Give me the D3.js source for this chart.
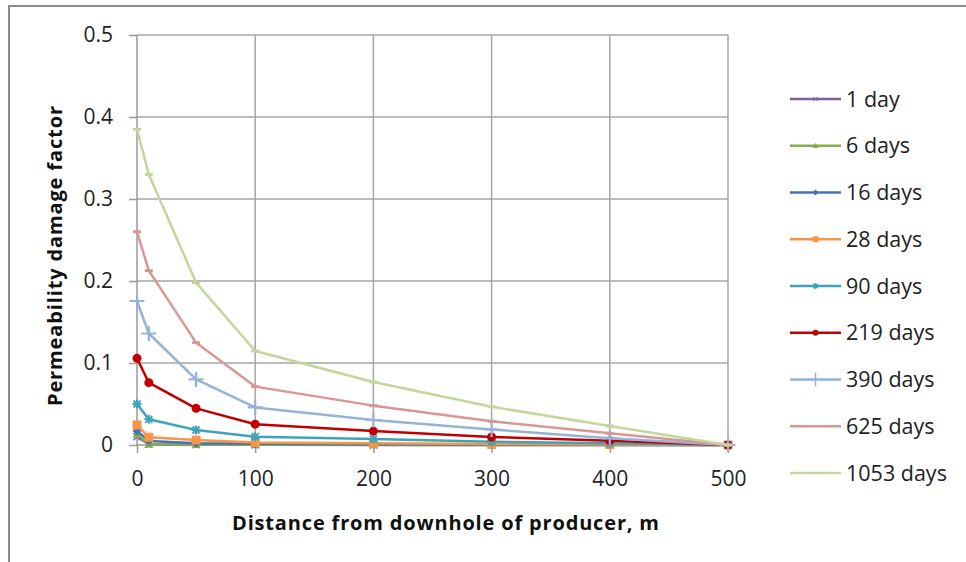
<!DOCTYPE html>
<html><head><meta charset="utf-8">
<script src="https://cdn.jsdelivr.net/npm/d3@7"></script>
<style>body{margin:0;background:#fff}svg{display:block}text{font-family:"Open Sans","Noto Sans",sans-serif}</style>
</head><body><svg id="c" width="966" height="562"></svg>
<script>
const distances = [0, 10, 50, 100, 200, 300, 400, 500];
const seriesNames = ["1 day","6 days","16 days","28 days","90 days","219 days","390 days","625 days","1053 days"];
const day1    = [0.010, 0.001, 0.0003, 0.0002, 0.0001, 0.0001, 0, 0];
const day6    = [0.013, 0.001, 0.0005, 0.0003, 0.0002, 0.0001, 0.0001, 0];
const day16   = [0.017, 0.005, 0.002, 0.0015, 0.001, 0.0007, 0.0004, 0];
const day28   = [0.0244, 0.0094, 0.006, 0.003, 0.002, 0.0012, 0.0006, 0];
const day90   = [0.050, 0.0313, 0.0183, 0.0102, 0.0073, 0.004, 0.002, 0];
const day219  = [0.1057, 0.076, 0.0447, 0.0254, 0.017, 0.0098, 0.0053, 0];
const day390  = [0.1756, 0.136, 0.080, 0.0458, 0.0305, 0.019, 0.0081, 0];
const day625  = [0.26, 0.2126, 0.1248, 0.0712, 0.048, 0.0289, 0.0142, 0];
const day1053 = [0.385, 0.330, 0.198, 0.1146, 0.0768, 0.0467, 0.0232, 0];
const xTicks = [0, 100, 200, 300, 400, 500];
const yTicks = [0, 0.1, 0.2, 0.3, 0.4, 0.5];
const xTitle = "Distance from downhole of producer, m";
const yTitle = "Permeability damage factor";

const allValues = [day1, day6, day16, day28, day90, day219, day390, day625, day1053];
const colors = ["#7D5FA0","#86AD4A","#4472B8","#F79646","#3FA3BB","#C00000","#95B3D7","#D99694","#C3D69B"];
const markers = ["x","tri","diamond","square","asterisk","circle","plus","dash","dash"];

const svg = d3.select("#c");
svg.append("rect").attr("x",9).attr("y",6).attr("width",1000).attr("height",600)
  .attr("fill","none").attr("stroke","#8a8a8a").attr("stroke-width",2);

const x = d3.scaleLinear().domain([0,500]).range([137,728]);
const y = d3.scaleLinear().domain([0,0.5]).range([445,35]);

const grid = svg.append("g");
grid.selectAll("line.h").data(yTicks.filter(d=>d>0)).join("line")
  .attr("x1",x(0)).attr("x2",x(500)).attr("y1",d=>y(d)).attr("y2",d=>y(d))
  .attr("stroke","#a6a6a6").attr("stroke-width",1.5);
grid.selectAll("line.v").data(xTicks.filter(d=>d>0)).join("line")
  .attr("y1",y(0)).attr("y2",y(0.5)).attr("x1",d=>x(d)).attr("x2",d=>x(d))
  .attr("stroke","#a6a6a6").attr("stroke-width",1.5);

const yAxis = svg.append("g").attr("transform",`translate(${x(0)},0)`)
  .call(d3.axisLeft(y).tickValues(yTicks).tickFormat(d=>d===0?"0":d3.format(".1f")(d)).tickSize(8).tickPadding(16));
const xAxis = svg.append("g").attr("transform",`translate(0,${y(0)})`)
  .call(d3.axisBottom(x).tickValues(xTicks).tickSize(8).tickPadding(18));
[yAxis,xAxis].forEach(a=>{
  a.select(".domain").attr("stroke","#9a9a9a").attr("stroke-width",1.5);
  a.selectAll(".tick line").attr("stroke","#9a9a9a").attr("stroke-width",1.5);
  a.selectAll(".tick text").attr("fill","#222").style("font-size","21px").style("font-family","'Open Sans', 'Noto Sans', sans-serif");
});
xAxis.select(".domain").attr("d",`M${x(0)},0H${x(500)}`);
yAxis.select(".domain").attr("d",`M0,${y(0)}V${y(0.5)}`);

function drawMarker(g, type, color, cx, cy){
  switch(type){
    case "x":
      g.append("path").attr("d",`M${cx-3.5},${cy-3.5}L${cx+3.5},${cy+3.5}M${cx-3.5},${cy+3.5}L${cx+3.5},${cy-3.5}`)
        .attr("stroke",color).attr("stroke-width",1.5).attr("fill","none"); break;
    case "tri":
      g.append("path").attr("d",`M${cx},${cy-4.5}L${cx+4.5},${cy+3.5}L${cx-4.5},${cy+3.5}Z`).attr("fill",color); break;
    case "diamond":
      g.append("path").attr("d",`M${cx},${cy-4.5}L${cx+4.5},${cy}L${cx},${cy+4.5}L${cx-4.5},${cy}Z`).attr("fill",color); break;
    case "square":
      g.append("rect").attr("x",cx-4.5).attr("y",cy-4.5).attr("width",9).attr("height",9).attr("fill",color); break;
    case "asterisk":
      g.append("path").attr("d",`M${cx-4.5},${cy}L${cx+4.5},${cy}M${cx},${cy-4.5}L${cx},${cy+4.5}M${cx-3.5},${cy-3.5}L${cx+3.5},${cy+3.5}M${cx-3.5},${cy+3.5}L${cx+3.5},${cy-3.5}`)
        .attr("stroke",color).attr("stroke-width",2).attr("fill","none"); break;
    case "circle":
      g.append("circle").attr("cx",cx).attr("cy",cy).attr("r",4.5).attr("fill",color); break;
    case "plus":
      g.append("path").attr("d",`M${cx-7.5},${cy}L${cx+7.5},${cy}M${cx},${cy-7.5}L${cx},${cy+7.5}`)
        .attr("stroke",color).attr("stroke-width",2.2).attr("fill","none"); break;
    case "dash":
      g.append("rect").attr("x",cx-4).attr("y",cy-1.5).attr("width",8).attr("height",3).attr("fill",color); break;
  }
}

const line = d3.line().x((d,i)=>x(distances[i])).y(d=>y(d));
const plot = svg.append("g");
allValues.forEach((vals,k)=>{
  const g = plot.append("g");
  g.append("path").datum(vals).attr("d",line).attr("fill","none")
    .attr("stroke",colors[k]).attr("stroke-width",2.5).attr("stroke-linejoin","round");
  vals.forEach((v,i)=>drawMarker(g, markers[k], colors[k], x(distances[i]), y(v)));
});

const legendY = d3.scaleLinear().domain([0,8]).range([99,473]);
const leg = svg.append("g");
seriesNames.forEach((name,k)=>{
  const ly = legendY(k);
  leg.append("line").attr("x1",790).attr("x2",841).attr("y1",ly).attr("y2",ly)
    .attr("stroke",colors[k]).attr("stroke-width",2.5);
  if(markers[k]!=="dash") {
    if(markers[k]==="plus"){
      leg.append("path").attr("d",`M${815.5},${ly-7}L${815.5},${ly+7}`).attr("stroke",colors[k]).attr("stroke-width",1.5);
    } else {
      leg.append("g").attr("transform",`translate(${815.5},${ly}) scale(0.65) translate(${-815.5},${-ly})`)
        .call(s=>drawMarker(s, markers[k], colors[k], 815.5, ly));
    }
  }
  leg.append("text").attr("x",846).attr("y",ly).attr("dy","0.36em")
    .style("font-size","21.5px").attr("fill","#222").text(name);
});

svg.append("text").attr("x",445.5).attr("y",530).attr("text-anchor","middle")
  .attr("textLength",427).attr("lengthAdjust","spacing")
  .style("font-size","20px").style("font-weight","bold").attr("fill","#111").text(xTitle);
svg.append("text").attr("transform",`translate(62,256) rotate(-90)`).attr("text-anchor","middle")
  .attr("textLength",300).attr("lengthAdjust","spacing")
  .style("font-size","20px").style("font-weight","bold").attr("fill","#111").text(yTitle);
</script></body></html>
